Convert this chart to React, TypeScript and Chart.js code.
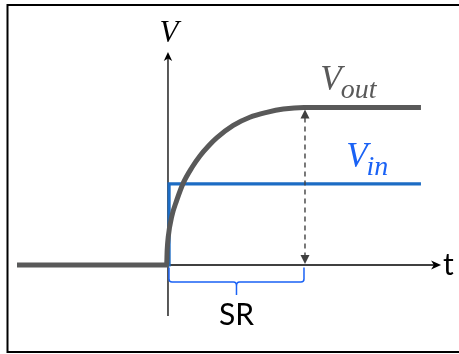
import React, { useEffect, useRef } from "react";
import { Chart, registerables } from "chart.js";

Chart.register(...registerables);

// time axis (SR = 5 units) and voltage axis (Vout final = 1)
const outT = [-5.55, -0.05, -0.03, 0.01, 0.14, 0.32, 0.56, 0.88, 1.18, 1.48, 1.79, 2.4, 3.01, 3.63, 4.24, 5.0, 9.3];
const outV = [0, 0, 0.095, 0.18, 0.31, 0.41, 0.52, 0.619, 0.694, 0.754, 0.807, 0.886, 0.938, 0.969, 0.99, 1.0, 1.0];
const inT = [-5.55, 0.04, 0.04, 9.3];
const inV = [0, 0, 0.515, 0.515];

const srStart = 0;
const srEnd = 5;
const vOutLevel = 1.0;
const vInLevel = 0.515;
const yAxisRange = [-0.324, 1.352];
const xAxisRange = [0, 10.04];

const labels = {
  yAxis: "V",
  xAxis: "t",
  sr: "SR",
  outMain: "V",
  outSub: "out",
  inMain: "V",
  inSub: "in",
};

const GRAY = "#595959";
const BLUE_LINE = "#1c6cc4";
const BLUE_TEXT = "#1a62f5";

function stealthHead(ctx: CanvasRenderingContext2D, tx: number, ty: number, angle: number, len: number, half: number, notch: number) {
  ctx.save();
  ctx.translate(tx, ty);
  ctx.rotate(angle);
  ctx.beginPath();
  ctx.moveTo(0, 0);
  ctx.lineTo(-len, -half);
  ctx.lineTo(-len + notch, 0);
  ctx.lineTo(-len, half);
  ctx.closePath();
  ctx.fill();
  ctx.restore();
}

export default function App() {
  const ref = useRef<HTMLCanvasElement>(null);

  useEffect(() => {
    const canvas = ref.current!;
    const diagram = {
      id: "diagram",
      beforeDatasetsDraw(chart: any) {
        const { ctx, scales } = chart;
        const px = (t: number) => scales.x.getPixelForValue(t);
        const py = (v: number) => scales.y.getPixelForValue(v);
        ctx.save();
        ctx.strokeStyle = "#000";
        ctx.fillStyle = "#000";
        ctx.lineWidth = 1.3;
        const x0 = px(0);
        ctx.beginPath();
        ctx.moveTo(x0, py(yAxisRange[0]));
        ctx.lineTo(x0, py(yAxisRange[1]) + 5);
        ctx.stroke();
        stealthHead(ctx, x0, py(yAxisRange[1]), -Math.PI / 2, 9, 4.2, 2.5);
        const y0 = py(0);
        ctx.beginPath();
        ctx.moveTo(px(xAxisRange[0]), y0);
        ctx.lineTo(px(xAxisRange[1]) - 5, y0);
        ctx.stroke();
        stealthHead(ctx, px(xAxisRange[1]), y0, 0, 10, 4.5, 2.8);
        ctx.restore();
      },
      afterDatasetsDraw(chart: any) {
        const { ctx, scales } = chart;
        const px = (t: number) => scales.x.getPixelForValue(t);
        const py = (v: number) => scales.y.getPixelForValue(v);
        ctx.save();
        // dashed double arrow at SR end
        const xa = px(srEnd) + 1;
        const yTop = py(vOutLevel) + 2;
        const yBot = py(0) - 1;
        ctx.strokeStyle = "#404040";
        ctx.fillStyle = "#404040";
        ctx.lineWidth = 1.4;
        ctx.setLineDash([5, 4]);
        ctx.beginPath();
        ctx.moveTo(xa, yTop + 8);
        ctx.lineTo(xa, yBot - 8);
        ctx.stroke();
        ctx.setLineDash([]);
        stealthHead(ctx, xa, yTop, -Math.PI / 2, 9, 4.5, 0);
        stealthHead(ctx, xa, yBot, Math.PI / 2, 9, 4.5, 0);

        // brace under SR
        const bx1 = px(srStart) + 1;
        const bx2 = px(srEnd);
        const bTop = py(0) + 2.5;
        const bY = py(0) + 17;
        const bTip = py(0) + 30;
        const bMid = (bx1 + bx2) / 2;
        ctx.strokeStyle = BLUE_TEXT;
        ctx.lineWidth = 1.5;
        ctx.beginPath();
        ctx.moveTo(bx1, bTop);
        ctx.lineTo(bx1, bY - 3);
        ctx.quadraticCurveTo(bx1, bY, bx1 + 3, bY);
        ctx.lineTo(bMid - 3, bY);
        ctx.quadraticCurveTo(bMid, bY, bMid, bY + 4);
        ctx.lineTo(bMid, bTip);
        ctx.moveTo(bMid, bY + 4);
        ctx.quadraticCurveTo(bMid, bY, bMid + 3, bY);
        ctx.lineTo(bx2 - 3, bY);
        ctx.quadraticCurveTo(bx2, bY, bx2, bY - 3);
        ctx.lineTo(bx2, bTop);
        ctx.stroke();

        // SR text
        ctx.fillStyle = "#000";
        ctx.font = '30px Lato';
        ctx.textAlign = "center";
        ctx.textBaseline = "alphabetic";
        ctx.fillText(labels.sr, bMid, bTip + 30);

        // t label
        ctx.textAlign = "left";
        ctx.fillText(labels.xAxis, px(xAxisRange[1]) + 2, py(0) + 10);

        // V axis label
        ctx.font = 'italic 31px "Liberation Serif"';
        ctx.textAlign = "center";
        ctx.fillText(labels.yAxis, px(0) + 1, py(yAxisRange[1]) - 10);

        // Vout label
        ctx.fillStyle = GRAY;
        ctx.textAlign = "left";
        ctx.font = 'italic 35px "Liberation Serif"';
        const ox = px(5.6);
        ctx.fillText(labels.outMain, ox, py(vOutLevel) - 17);
        const w1 = ctx.measureText(labels.outMain).width;
        ctx.font = 'italic 28px "Liberation Serif"';
        ctx.fillText(labels.outSub, ox + w1 - 1, py(vOutLevel) - 9);

        // Vin label
        ctx.fillStyle = BLUE_TEXT;
        ctx.font = 'italic 35px "Liberation Serif"';
        const ix = px(6.55);
        ctx.fillText(labels.inMain, ix, py(vInLevel) - 17);
        const w2 = ctx.measureText(labels.inMain).width;
        ctx.font = 'italic 28px "Liberation Serif"';
        ctx.fillText(labels.inSub, ix + w2 - 1, py(vInLevel) - 9);
        ctx.restore();
      },
      afterDraw(chart: any) {
        const { ctx } = chart;
        ctx.save();
        ctx.strokeStyle = "#000";
        ctx.lineWidth = 2;
        ctx.strokeRect(7.5, 5, 480, 347);
        ctx.restore();
      },
    };

    const chart = new Chart(canvas, {
      type: "scatter",
      data: {
        datasets: [
          {
            label: "Vout",
            data: outT.map((t, i) => ({ x: t, y: outV[i] })),
            showLine: true,
            borderColor: GRAY,
            borderWidth: 5,
            pointRadius: 0,
            cubicInterpolationMode: "monotone",
            borderCapStyle: "butt",
            borderJoinStyle: "round",
          },
          {
            label: "Vin",
            data: inT.map((t, i) => ({ x: t, y: inV[i] })),
            showLine: true,
            borderColor: BLUE_LINE,
            borderWidth: 3.2,
            pointRadius: 0,
            tension: 0,
            borderCapStyle: "butt",
            borderJoinStyle: "miter",
          },
        ],
      },
      options: {
        animation: false,
        responsive: false,
        maintainAspectRatio: false,
        layout: { padding: 0 },
        scales: {
          x: { type: "linear", min: -6.176, max: 10.699, display: false },
          y: { type: "linear", min: -0.565, max: 1.6825, display: false },
        },
        plugins: { legend: { display: false }, tooltip: { enabled: false } },
        events: [],
      },
      plugins: [diagram],
    } as any);
    return () => chart.destroy();
  }, []);

  return (
    <div style={{ position: "absolute", left: 0, top: 0, width: 459, height: 354, background: "#fff" }}>
      <canvas ref={ref} width={459} height={354} style={{ display: "block" }} />
    </div>
  );
}
